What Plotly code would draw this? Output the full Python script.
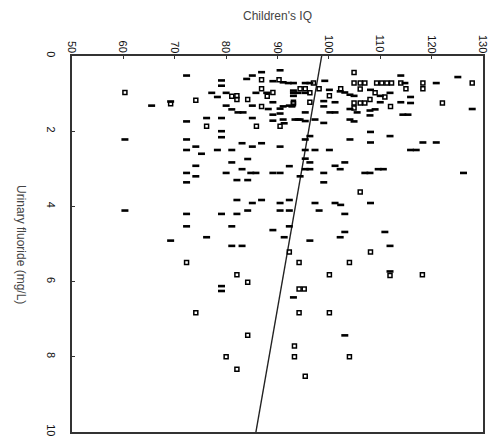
import plotly.graph_objects as go

# Open-square group (IQ, urinary fluoride mg/L)
open_iq = [60.3, 86.9, 90.3, 81.1, 82.1, 82.1, 84.2, 86.9, 88.0, 89.1, 93.1, 69.2, 74.1, 86.9,
           76.2, 85.9, 90.5, 104.9, 97.0, 104.9, 106.1, 107.0, 109.3, 110.3, 111.3, 112.2,
           114.0, 118.3, 127.9, 94.4, 95.4, 98.1, 102.3, 106.1, 115.0, 118.3, 100.1, 109.0,
           110.9, 96.3, 93.1, 96.3, 104.9, 106.1, 107.0, 108.0, 122.1, 112.0, 104.9,
           92.3, 72.3, 82.1, 84.2, 74.1, 106.1, 108.1, 94.2, 104.0, 100.1, 111.9, 118.2,
           94.2, 95.2, 94.2, 100.1, 84.2, 93.3, 80.0, 93.3, 104.0, 82.1, 95.4]
open_fl = [0.97, 0.63, 0.63, 1.07, 1.06, 1.16, 1.16, 0.87, 1.07, 0.97, 1.27, 1.27, 1.18, 1.34,
           1.87, 1.87, 1.87, 0.44, 0.72, 0.72, 0.72, 0.72, 0.72, 0.72, 0.72, 0.72,
           0.72, 0.72, 0.72, 0.87, 0.87, 0.87, 0.87, 0.88, 0.87, 0.87, 1.06, 0.98,
           1.09, 0.98, 1.23, 1.23, 1.25, 1.25, 1.25, 1.16, 1.25, 1.34, 1.38,
           5.21, 5.49, 5.82, 6.02, 6.83, 3.62, 5.21, 5.49, 5.49, 5.82, 5.84, 5.82,
           6.20, 6.20, 6.83, 6.83, 7.43, 7.71, 8.00, 8.00, 8.00, 8.33, 8.52]

# Filled group (IQ, urinary fluoride mg/L)
filled_iq = [72.3, 79.1, 79.1, 84.0, 85.1, 86.9, 90.5, 89.1, 91.1, 92.1, 93.1, 77.2, 78.3, 80.0,
             85.8, 87.9, 93.1, 93.1, 65.5, 69.2, 80.0, 81.1, 82.3, 83.3, 85.1, 88.2, 89.1,
             90.5, 90.5, 92.3, 89.1, 89.1, 72.3, 76.2, 79.1, 85.1, 91.3, 94.0, 79.1, 79.1,
             60.3, 72.3, 72.3, 74.1, 75.2, 78.3, 81.1, 83.1, 85.1, 86.9, 90.5, 84.2, 81.1,
             74.1, 83.1, 92.3, 72.3, 74.1, 80.0, 84.8, 85.8, 89.1, 90.5, 72.3, 82.1, 84.2,
             114.0, 125.1, 95.4, 96.3, 99.2, 114.8, 120.9, 100.1, 108.1, 93.1, 94.0, 95.4,
             102.2, 103.1, 104.1, 104.9, 110.0, 111.9, 115.9, 99.0, 99.0, 101.2, 110.0, 114.0,
             115.9, 91.1, 92.8, 95.4, 100.2, 101.2, 104.1, 105.5, 108.0, 108.0, 109.0, 114.4,
             115.4, 127.9, 91.1, 93.4, 94.4, 95.4, 97.3, 99.0, 104.1, 104.9, 108.1, 111.9,
             96.3, 95.4, 104.1, 108.1, 118.3, 120.9, 95.4, 97.3, 100.1, 115.9, 117.0, 95.4,
             96.3, 101.2, 102.2, 103.1, 95.4, 96.3, 109.6, 110.6, 107.0, 108.0, 126.2, 94.4,
             99.0, 99.0,
             82.1, 85.1, 86.9, 90.5, 92.3, 60.3, 72.3, 79.1, 82.1, 84.2, 90.5, 92.3, 72.3,
             81.1, 89.1, 92.3, 69.2, 76.2, 81.1, 83.1, 91.3, 79.1, 79.1, 93.1,
             97.3, 101.2, 102.3, 108.1, 98.1, 103.1, 103.1, 110.9, 96.3, 102.2, 111.9, 111.9,
             103.1]
filled_fl = [0.52, 0.65, 0.79, 0.61, 0.52, 0.43, 0.38, 0.67, 0.70, 0.72, 0.72, 0.98, 1.09, 0.98,
             0.98, 0.98, 0.92, 1.06, 1.32, 1.21, 1.32, 1.42, 1.50, 1.50, 1.32, 1.41, 1.23,
             1.40, 1.53, 1.32, 1.56, 1.72, 1.74, 1.65, 1.65, 1.65, 1.79, 1.69, 2.00, 2.16,
             2.22, 2.22, 2.50, 2.41, 2.60, 2.50, 2.50, 2.32, 2.41, 2.32, 2.41, 2.74, 2.83,
             2.92, 3.01, 2.93, 3.11, 3.20, 3.11, 3.11, 3.11, 3.11, 3.11, 3.36, 3.30, 3.30,
             0.52, 0.56, 0.72, 0.72, 0.66, 0.72, 0.72, 0.90, 0.90, 0.98, 0.98, 0.98,
             0.94, 0.97, 1.03, 1.06, 1.06, 0.98, 1.09, 1.20, 1.34, 1.23, 1.23, 1.23,
             1.25, 1.34, 1.34, 1.50, 1.50, 1.50, 1.41, 1.50, 1.45, 1.58, 1.42, 1.56,
             1.56, 1.41, 1.69, 1.69, 1.69, 1.73, 1.69, 1.78, 1.69, 1.74, 2.02, 2.13,
             2.13, 2.22, 2.22, 2.30, 2.30, 2.30, 2.50, 2.50, 2.50, 2.50, 2.50, 2.73,
             2.83, 2.92, 3.01, 2.83, 3.01, 3.01, 3.01, 3.01, 3.11, 3.11, 3.11, 3.20,
             3.11, 3.36,
             3.83, 3.91, 3.83, 3.91, 3.83, 4.11, 4.20, 4.20, 4.20, 4.11, 4.11, 4.11, 4.53,
             4.53, 4.63, 4.53, 4.91, 4.82, 5.05, 5.05, 4.82, 6.12, 6.25, 6.42,
             3.91, 3.91, 3.96, 3.91, 4.11, 4.20, 4.68, 4.68, 4.91, 4.82, 5.05, 5.73,
             7.43]

# Regression line
line_fl = [0, 10]
line_iq = [98.6, 85.8]

iq_ticks = [50, 60, 70, 80, 90, 100, 110, 120, 130]
fl_ticks = [0, 2, 4, 6, 8, 10]

FONT = "Liberation Sans, Arial, sans-serif"

fig = go.Figure()
fig.add_trace(go.Scatter(x=line_iq, y=line_fl, mode="lines",
                         line=dict(color="#222", width=1.4), hoverinfo="skip"))
fig.add_trace(go.Scatter(x=filled_iq, y=filled_fl, mode="markers",
                         marker=dict(symbol="line-ew", size=5, color="black",
                                     line=dict(color="black", width=2.6))))
fig.add_trace(go.Scatter(x=open_iq, y=open_fl, mode="markers",
                         marker=dict(symbol="square-open", size=4, color="black",
                                     line=dict(color="black", width=1.5))))

tickfont = dict(family=FONT, size=11, color="#111")

# IQ tick labels sit directly on the top axis, rotated like the source
annotations = [
    dict(text=str(t), x=t, y=1, xref="x", yref="paper", xanchor="center",
         yanchor="bottom", textangle=90, showarrow=False, yshift=1,
         font=tickfont)
    for t in iq_ticks
]
annotations += [
    dict(text="Children's IQ", x=0.5, y=1, xref="paper", yref="paper",
         yshift=40, xanchor="center", yanchor="middle", showarrow=False,
         font=dict(family=FONT, size=12, color="#444")),
    dict(text="Urinary fluoride (mg/L)", x=0, y=0.5, xref="paper", yref="paper",
         xshift=-51, xanchor="center", yanchor="middle", showarrow=False, textangle=90,
         font=dict(family=FONT, size=12, color="#444")),
]

fig.update_layout(
    width=500, height=448,
    margin=dict(l=72, r=17, t=56, b=13),
    paper_bgcolor="white", plot_bgcolor="white",
    showlegend=False,
    xaxis=dict(side="top", range=[50, 130], tickvals=iq_ticks, showticklabels=False,
               showgrid=False, zeroline=False, showline=True, mirror=True,
               linecolor="#333", linewidth=1.5, ticks="inside", ticklen=3,
               tickcolor="#333"),
    yaxis=dict(range=[10, 0], tickvals=fl_ticks, tickangle=90,
               showgrid=False, zeroline=False, showline=True, mirror=True,
               linecolor="#333", linewidth=1.5, ticks="inside", ticklen=3,
               tickcolor="#333", tickfont=tickfont, ticklabelstandoff=10),
    annotations=annotations,
)
fig.write_html("out.html")
